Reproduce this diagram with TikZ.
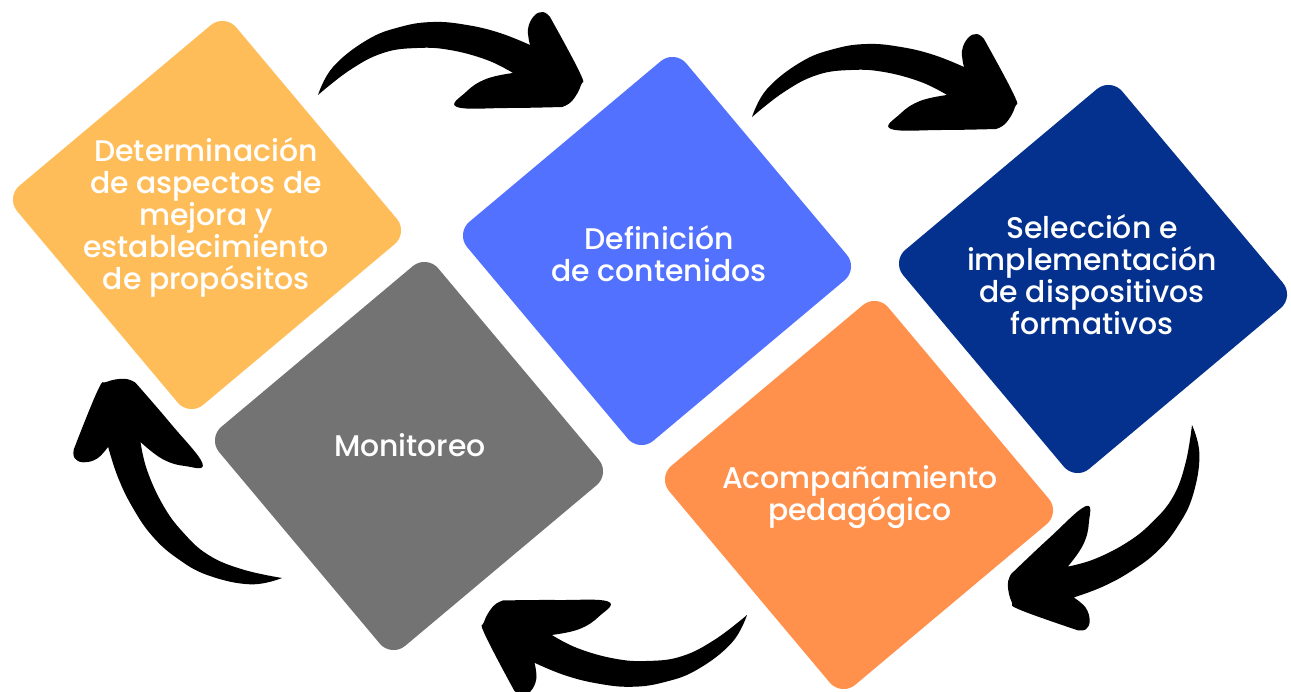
\documentclass[tikz,border=0pt]{standalone}
\usepackage{fontspec}
\newfontfamily\pop{Poppins Medium}
\definecolor{cyellow}{HTML}{FFBD59}
\definecolor{cblue}{HTML}{5271FF}
\definecolor{cnavy}{HTML}{04308E}
\definecolor{cgray}{HTML}{737373}
\definecolor{corange}{HTML}{FF914D}
\tikzset{
  diam/.style={rectangle, rounded corners=0.36cm, minimum size=5.72cm, rotate=40, inner sep=0, draw=none},
  lbl/.style={text=white, align=center, font=\pop\fontsize{17}{18.2}\selectfont, inner sep=0},
  brush/.pic={
    \fill[black]
      plot[smooth, tension=0.7] coordinates {(0,0) (15,-28) (49,-55) (82,-68) (115,-73) (149,-70) (182,-62) (212,-50)}
      -- plot[smooth, tension=0.7] coordinates {(212,-50) (210,-66) (216,-79) (225,-83) (232,-78)}
      -- plot[smooth, tension=0.7] coordinates {(232,-78) (262,-22) (263,-10) (254,6) (244,12)}
      -- plot[smooth, tension=0.7] coordinates {(244,12) (190,13) (139,12) (148,-3) (168,-16) (195,-22)}
      -- plot[smooth, tension=0.7] coordinates {(195,-22) (169,-35) (132,-45) (99,-47) (65,-42) (32,-25) (0,0)}
      -- cycle;
  }
}
\begin{document}
\begin{tikzpicture}[x=0.02cm, y=-0.02cm]
  \fill[white] (0,0) rectangle (1291,692);
  \useasboundingbox (0,0) rectangle (1291,692);
  % diamonds
  \node[diam, fill=cyellow] (d1) at (207,215) {};
  \node[diam, fill=cblue]   (d2) at (657,251) {};
  \node[diam, fill=cnavy]   (d3) at (1093,279) {};
  \node[diam, fill=cgray]   (d5) at (409,456) {};
  \node[diam, fill=corange] (d4) at (859,495) {};
  % labels
  \node[lbl] (t1) at (206,217) {Determinación\\de aspectos de\\mejora y\\establecimiento\\de propósitos};
  \node[lbl] (t2) at (659,254) {Definición\\de contenidos};
  \node[lbl] (t3) at (1092,275) {Selección e\\implementación\\de dispositivos\\formativos};
  \node[lbl] (t4) at (860,497) {Acompañamiento\\pedagógico};
  \node[lbl] (t5) at (410,445) {Monitoreo};
  % arrow anchors
  \coordinate (a1) at (318,95);
  \coordinate (a2) at (752,117);
  \coordinate (a3) at (1192,425);
  \coordinate (a4) at (747,615);
  \coordinate (a5) at (282,578);
  \pic at (a1) {brush};
  \pic at (a2) {brush};
  \pic[rotate=-137.7, scale=0.96] at (a3) {brush};
  \pic[rotate=-180.6] at (a4) {brush};
  \pic[rotate=129.7] at (a5) {brush};
\end{tikzpicture}
\end{document}
